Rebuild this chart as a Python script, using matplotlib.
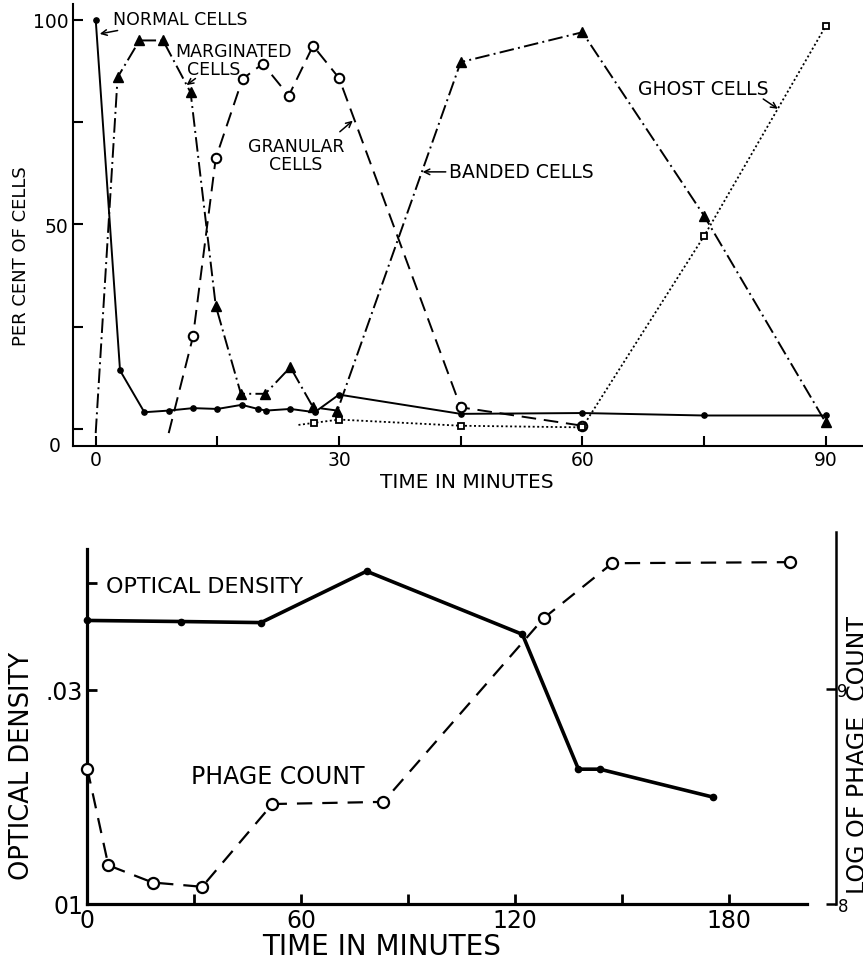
import matplotlib.pyplot as plt

# ---- top panel: per cent of cells against time (min) ----
normal_t = [0, 3, 6, 9, 12, 15, 18, 20, 21, 24, 27, 30, 45, 60, 75, 90]
normal_pct = [100, 14.3, 4.1, 4.5, 5.1, 4.9, 5.9, 4.9, 4.5, 4.9, 4.1, 8.4, 3.7, 3.9, 3.3, 3.3]

marg_t = [0, 2.7, 5.4, 8.3, 11.7, 14.8, 17.9, 20.9, 24, 26.8, 29.8, 45, 60, 75, 90]
marg_pct = [-1, 85.9, 94.9, 94.9, 82.2, 30.1, 8.6, 8.6, 15.1, 5.3, 4.5, 89.6, 96.9, 52.1, 1.6]

gran_t = [9, 12, 14.8, 18.1, 20.6, 23.8, 26.8, 30, 45, 60]
gran_pct = [-1, 22.6, 66.1, 85.5, 89.2, 81.4, 93.6, 85.7, 5.3, 0.8]

ghost_t = [25, 26.9, 30, 45, 60, 75, 90]
ghost_pct = [1, 1.5, 2.3, 0.8, 0.4, 47.1, 98.4]

# ---- bottom panel: optical density and phage count ----
od_t = [0, 26.3, 48.7, 78.3, 122, 137.7, 143.7, 175.3]
od_val = [0.0365, 0.0364, 0.0363, 0.0411, 0.0352, 0.0226, 0.0226, 0.0200]

phage_t = [0, 5.9, 18.3, 32.2, 51.9, 83, 128, 147.2, 197]
phage_log = [8.63, 8.18, 8.10, 8.08, 8.465, 8.475, 9.33, 9.585, 9.59]

W, H = 863, 962


def fx(px):
    return px / W


def fy(py):
    return 1 - py / H


plt.rcParams['font.family'] = 'DejaVu Sans'

fig = plt.figure(figsize=(8.63, 9.62), dpi=100)

# ================= top =================
ax = fig.add_axes([fx(72.5), fy(447), fx(863) - fx(72.5), fy(5) - fy(447)])
ax.set_xlim(-2.86, 94.6)
ax.set_ylim(-4.15, 103.8)
for s in ['top', 'right']:
    ax.spines[s].set_visible(False)
for s in ['left', 'bottom']:
    ax.spines[s].set_linewidth(1.5)

ax.plot(normal_t, normal_pct, color='black', lw=1.4, marker='o', ms=3.8,
        clip_on=False)
ax.plot(marg_t, marg_pct, color='black', lw=1.4, ls=(0, (7.5, 2.2, 1, 2.2)),
        marker='^', ms=7.5, markevery=list(range(1, len(marg_t))), clip_on=False)
ax.plot(gran_t, gran_pct, color='black', lw=1.4, ls=(0, (7.5, 4)),
        marker='o', ms=6.8, mfc='white', mew=1.5,
        markevery=list(range(1, len(gran_t))), clip_on=False)
ax.plot(ghost_t, ghost_pct, color='black', lw=1.3, ls=(0, (1.1, 1.4)),
        marker='s', ms=4.8, mfc='white', mew=1.3,
        markevery=list(range(1, len(ghost_t))), clip_on=False)

ax.set_xticks([0, 30, 60, 90])
ax.set_xticks([15, 45, 75], minor=True)
ax.set_yticks([0, 25, 50, 75, 100])
ax.set_yticklabels(['', '', '50', '', '100'])
ax.tick_params(which='both', direction='in', length=7, width=1.5,
               labelsize=13.5, pad=3)
ax.text(-0.015, -4.15, '0', transform=ax.get_yaxis_transform(),
        ha='right', va='center', fontsize=13.5)

arr = dict(arrowstyle='->', lw=1.1, color='black', mutation_scale=10,
           shrinkA=0, shrinkB=0)
ax.annotate('NORMAL CELLS', xy=(0.5, 96.5), xytext=(2.1, 100.2),
            ha='left', va='center', fontsize=12.5, arrowprops=arr)
ax.text(9.8, 92.4, 'MARGINATED', ha='left', va='center', fontsize=12.5)
ax.text(11.3, 88.0, 'CELLS', ha='left', va='center', fontsize=12.5)
ax.annotate('', xy=(11.2, 84.0), xytext=(12.3, 85.6), arrowprops=arr)
ax.text(24.7, 66.9, 'GRANULAR\nCELLS', ha='center', va='center',
        fontsize=12.5, linespacing=1.05)
ax.annotate('', xy=(31.7, 75.3), xytext=(30.1, 72.6), arrowprops=arr)
ax.annotate('BANDED CELLS', xy=(40.3, 62.8), xytext=(43.5, 62.8),
            ha='left', va='center', fontsize=13.5, arrowprops=arr)
ax.annotate('', xy=(84.1, 78.2), xytext=(82.3, 80.6), arrowprops=arr)
ax.text(66.8, 83.1, 'GHOST CELLS', ha='left', va='center', fontsize=13.5)

fig.text(fx(21.5), fy(256), 'PER CENT OF CELLS', rotation=90,
         ha='center', va='center', fontsize=13)
fig.text(fx(466.5), fy(482.7), 'TIME IN MINUTES', ha='center', va='center',
         fontsize=14.5)

# ================= bottom =================
bx = fig.add_axes([fx(87.3), fy(905), fx(806.7) - fx(87.3), fy(550) - fy(905)])
bx.set_xlim(0, 201.7)
bx.set_ylim(0.01, 0.01 + 355 / 10700)
for s in ['top', 'right']:
    bx.spines[s].set_visible(False)
for s in ['left', 'bottom']:
    bx.spines[s].set_linewidth(2.3)

bx.plot(od_t, od_val, color='black', lw=2.6, marker='o', ms=4.5,
        clip_on=False, zorder=3)

bx.set_xticks([0, 60, 120, 180])
bx.set_xticks([30, 90, 150], minor=True)
bx.set_yticks([0.01, 0.03, 0.04])
bx.set_yticklabels(['01', '.03', ''])
bx.tick_params(which='both', direction='in', length=7, width=2,
               labelsize=17, pad=3)

bx.text(5.2, 0.0397, 'OPTICAL DENSITY', ha='left', va='center', fontsize=16)
bx.text(29.1, 0.02196, 'PHAGE COUNT', ha='left', va='center', fontsize=17)

rx = bx.twinx()
rx.set_ylim(8, 8 + 355 / 215)
for s in ['top', 'left', 'bottom']:
    rx.spines[s].set_visible(False)
rx.spines['right'].set_position(('axes', (836 - 87.3) / (806.7 - 87.3)))
rx.spines['right'].set_linewidth(1.8)
rx.spines['right'].set_bounds(8, 9.73)
rx.plot(phage_t, phage_log, color='black', lw=1.6, ls=(0, (6.9, 4.5)),
        marker='o', ms=8, mfc='white', mew=1.6, clip_on=False, zorder=3)
rx.set_yticks([8, 9])
rx.tick_params(direction='in', length=7, width=1.8, labelsize=12, pad=1)

fig.text(fx(22), fy(766), 'OPTICAL DENSITY', rotation=90, ha='center',
         va='center', fontsize=18.5)
fig.text(fx(382), fy(947), 'TIME IN MINUTES', ha='center', va='center',
         fontsize=20)
fig.text(fx(858), fy(755), 'LOG OF PHAGE  COUNT', rotation=90, ha='center',
         va='center', fontsize=17)

fig.savefig('out.png', dpi=100)
